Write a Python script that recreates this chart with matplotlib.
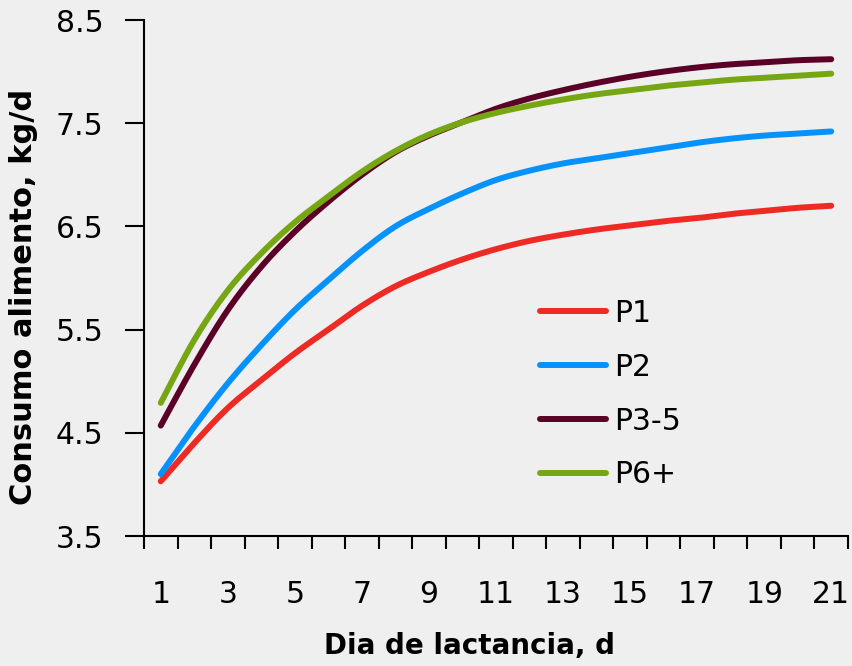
import matplotlib.pyplot as plt
import numpy as np

days = list(range(1, 22))
p1 = [4.03, 4.40, 4.74, 5.01, 5.27, 5.50, 5.73, 5.92, 6.06, 6.18, 6.28,
      6.36, 6.42, 6.47, 6.51, 6.55, 6.58, 6.62, 6.65, 6.68, 6.70]
p2 = [4.10, 4.56, 4.98, 5.35, 5.69, 5.98, 6.26, 6.50, 6.67, 6.82, 6.95,
      7.04, 7.11, 7.16, 7.21, 7.26, 7.31, 7.35, 7.38, 7.40, 7.42]
p35 = [4.57, 5.16, 5.69, 6.11, 6.45, 6.74, 7.00, 7.22, 7.38, 7.51, 7.64,
       7.74, 7.82, 7.89, 7.95, 8.00, 8.04, 8.07, 8.09, 8.11, 8.12]
p6 = [4.79, 5.40, 5.88, 6.24, 6.54, 6.79, 7.03, 7.23, 7.39, 7.51, 7.60,
      7.67, 7.73, 7.78, 7.82, 7.86, 7.89, 7.92, 7.94, 7.96, 7.98]
series = [('P1', p1, '#ee2a24'), ('P2', p2, '#0792fb'),
          ('P3-5', p35, '#5b0026'), ('P6+', p6, '#76a713')]
y_ticks = [3.5, 4.5, 5.5, 6.5, 7.5, 8.5]


def smooth(x, y, n=16):
    # catmull-rom curve through the points, like a smoothed line in Excel
    x = np.asarray(x, float)
    y = np.asarray(y, float)
    px = np.concatenate([[x[0]], x, [x[-1]]])
    py = np.concatenate([[y[0]], y, [y[-1]]])
    xs, ys = [], []
    t = np.linspace(0, 1, n, endpoint=False)
    for i in range(1, len(px) - 2):
        for arr, out in ((px, xs), (py, ys)):
            p0, p1_, p2_, p3 = arr[i - 1], arr[i], arr[i + 1], arr[i + 2]
            out.extend(0.5 * (2 * p1_ + (-p0 + p2_) * t
                              + (2 * p0 - 5 * p1_ + 4 * p2_ - p3) * t ** 2
                              + (-p0 + 3 * p1_ - 3 * p2_ + p3) * t ** 3))
    xs.append(x[-1])
    ys.append(y[-1])
    return xs, ys


fig = plt.figure(figsize=(8.52, 6.66), dpi=100, facecolor='#efefef')
ax = fig.add_axes([144 / 852, 130 / 666, 704 / 852, 516 / 666])
ax.set_facecolor('#efefef')

for name, vals, col in series:
    sx, sy = smooth(days, vals)
    ax.plot(sx, sy, color=col, lw=4.3, solid_capstyle='round', label=name)

ax.set_xlim(0.5, 21.5)
ax.set_ylim(3.5, 8.5)
ax.set_yticks(y_ticks)
ax.set_yticklabels([f'{v:.1f}' for v in y_ticks])
ax.set_xticks(days[::2])
ax.set_xticks(np.arange(0.5, 22, 1), minor=True)

for s in ['top', 'right']:
    ax.spines[s].set_visible(False)
for s in ['left', 'bottom']:
    ax.spines[s].set_linewidth(1.5)

ax.tick_params(axis='y', length=14, width=1.5, labelsize=21.5, pad=15)
ax.tick_params(axis='x', which='major', length=0, labelsize=21.5, pad=32)
ax.tick_params(axis='x', which='minor', length=9, width=1.5)

fig.text(470 / 852, 1 - 646 / 666, 'Dia de lactancia, d', ha='center', va='center',
         fontsize=20, fontweight='bold')
fig.text(24 / 852, 1 - 297 / 666, 'Consumo alimento, kg/d', ha='center', va='center',
         rotation=90, fontsize=22, fontweight='bold')

ax.legend(loc='upper left', bbox_to_anchor=(381 / 704, 1 - 264 / 516), frameon=False,
          fontsize=21.5, handlelength=2.2, handletextpad=0.3, labelspacing=0.83,
          borderpad=0)

fig.savefig('out.png', dpi=100, facecolor=fig.get_facecolor())
